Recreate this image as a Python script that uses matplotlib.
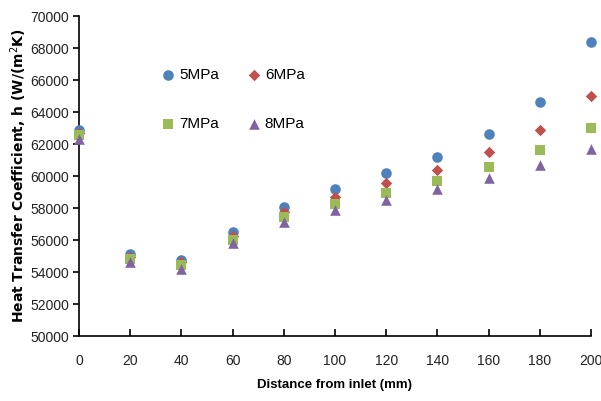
import matplotlib
matplotlib.use("Agg")
import matplotlib.pyplot as plt

distance_mm = [0, 20, 40, 60, 80, 100, 120, 140, 160, 180, 200]

h_5mpa = [62850, 55100, 54750, 56500, 58050, 59200, 60200, 61200, 62620, 64600, 68350]
h_6mpa = [62700, 54950, 54600, 56250, 57750, 58700, 59550, 60380, 61500, 62880, 65030]
h_7mpa = [62550, 54800, 54420, 56000, 57420, 58250, 58970, 59700, 60580, 61630, 62980]
h_8mpa = [62300, 54650, 54200, 55800, 57100, 57900, 58500, 59180, 59850, 60700, 61680]

series = [
    ("5MPa", h_5mpa, "o", "#4F81BD", 58),
    ("6MPa", h_6mpa, "D", "#C0504D", 34),
    ("7MPa", h_7mpa, "s", "#9BBB59", 58),
    ("8MPa", h_8mpa, "^", "#8064A2", 58),
]

tick_font = "Liberation Sans"


def main():
    fig = plt.figure(figsize=(6.01, 4.01), dpi=100)
    ax = fig.add_axes([0.1314, 0.162, 0.852, 0.798])

    handles = []
    for label, values, marker, color, size in series:
        h = ax.scatter(distance_mm, values, marker=marker, s=size, color=color,
                       label=label, zorder=3, linewidths=0, clip_on=False)
        handles.append(h)

    ax.set_xlim(0, 200)
    ax.set_ylim(50000, 70000)
    ax.set_xticks(range(0, 201, 20))
    ax.set_yticks(range(50000, 70001, 2000))

    for side in ("top", "right"):
        ax.spines[side].set_visible(False)
    for side in ("left", "bottom"):
        ax.spines[side].set_linewidth(1.2)

    ax.tick_params(axis="x", direction="in", length=5, width=1.2, pad=13)
    ax.tick_params(axis="y", direction="out", length=4, width=1.2, pad=3)
    for lbl in ax.get_xticklabels() + ax.get_yticklabels():
        lbl.set_fontfamily(tick_font)
        lbl.set_fontsize(10)
        lbl.set_color("#222222")

    ax.set_xlabel("Distance from inlet (mm)", fontfamily=tick_font, fontsize=9.5,
                  fontweight="bold")
    ax.xaxis.set_label_coords(0.5, -0.135)
    ax.set_ylabel("Heat Transfer Coefficient, h (W/(m$^2$K)", fontfamily="DejaVu Sans",
                  fontsize=10, fontweight="bold")
    ax.yaxis.set_label_coords(-0.098, 0.5)

    # row-wise legend: 5MPa 6MPa / 7MPa 8MPa
    order = [0, 2, 1, 3]
    ax.legend([handles[i] for i in order], [series[i][0] for i in order],
              ncol=2, loc="upper left", bbox_to_anchor=(0.118, 0.882),
              frameon=False, handletextpad=-0.3, columnspacing=1.3,
              labelspacing=2.3, prop={"family": tick_font, "size": 11},
              scatterpoints=1)

    fig.savefig("out.png", dpi=100)


if __name__ == "__main__":
    main()
